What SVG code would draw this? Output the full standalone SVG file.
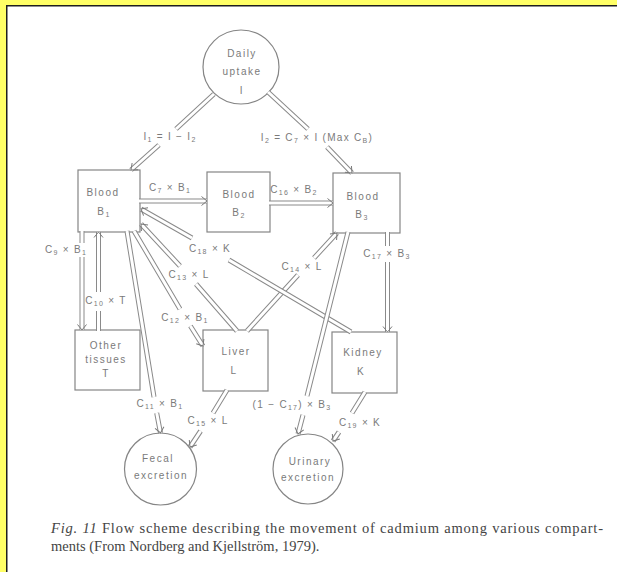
<svg xmlns="http://www.w3.org/2000/svg" width="617" height="572" viewBox="0 0 617 572">
<defs>
<style>
.nd{fill:none;stroke:#858585;stroke-width:1.2}
.nt{font-family:"Liberation Sans",Arial,sans-serif;font-size:10px;letter-spacing:1.5px;fill:#7a7a7a;text-anchor:middle}
.lb{font-family:"Liberation Sans",Arial,sans-serif;font-size:10px;letter-spacing:1.3px;fill:#7a7a7a;text-anchor:middle}
.sb{font-size:7px}
.o{fill:none;stroke:#8a8a8a;stroke-width:5}
.i{fill:none;stroke:#fff;stroke-width:3;marker-end:url(#ah)}
.cap{font-family:"Liberation Serif","Times New Roman",serif;font-size:14.5px;fill:#444}
</style>
<marker id="ah" markerUnits="userSpaceOnUse" viewBox="-7 -6 8 12" markerWidth="8" markerHeight="12" refX="0" refY="0" orient="auto">
<path d="M-5.5,-4.5 L0,0 L-5.5,4.5" fill="none" stroke="#7a7a7a" stroke-width="1"/>
</marker>
</defs>
<rect x="0" y="0" width="617" height="572" fill="#FFFF66"/>
<rect x="6.75" y="5.75" width="620" height="580" fill="#fff" stroke="#1e1e1e" stroke-width="1.5"/>

<g id="uptake"><ellipse class="nd" cx="241" cy="67" rx="38" ry="37"/>
<text class="nt" x="242" y="57">Daily</text><text class="nt" x="242" y="75">uptake</text><text class="nt" x="242" y="94">I</text></g>
<g id="blood1"><rect class="nd" x="78" y="170" width="62" height="62"/>
<text class="nt" x="103" y="196">Blood</text><text class="nt" x="104" y="215">B<tspan class="sb" dy="2">1</tspan></text></g>
<g id="blood2"><rect class="nd" x="207" y="172" width="63" height="60"/>
<text class="nt" x="239" y="198">Blood</text><text class="nt" x="239" y="216">B<tspan class="sb" dy="2">2</tspan></text></g>
<g id="blood3"><rect class="nd" x="333" y="173" width="67" height="60"/>
<text class="nt" x="363" y="200">Blood</text><text class="nt" x="362" y="218">B<tspan class="sb" dy="2">3</tspan></text></g>
<g id="tissues"><rect class="nd" x="75" y="330" width="65" height="60"/>
<text class="nt" x="106" y="349">Other</text><text class="nt" x="106" y="363">tissues</text><text class="nt" x="106" y="377">T</text></g>
<g id="liver"><rect class="nd" x="203" y="330" width="65" height="61"/>
<text class="nt" x="236" y="355">Liver</text><text class="nt" x="234" y="374">L</text></g>
<g id="kidney"><rect class="nd" x="332" y="332" width="65" height="61"/>
<text class="nt" x="363" y="356">Kidney</text><text class="nt" x="361" y="375">K</text></g>
<g id="fecal"><circle class="nd" cx="160.5" cy="469" r="36"/>
<text class="nt" x="158" y="462">Fecal</text><text class="nt" x="161" y="479">excretion</text></g>
<g id="urinary"><circle class="nd" cx="308" cy="469" r="35"/>
<text class="nt" x="310" y="465">Urinary</text><text class="nt" x="308" y="481">excretion</text></g>

<g id="connectors">
<g><path class="o" d="M214,94 L176,129 M159,145 L131,170"/><path class="i" d="M214,94 L176,129 M159,145 L131,170"/>
<text class="lb" x="170" y="140">I<tspan class="sb" dy="2">1</tspan><tspan dy="-2"> = I − I</tspan><tspan class="sb" dy="2">2</tspan></text></g>
<g><path class="o" d="M268,92 L308,129 M327,147 L352,173"/><path class="i" d="M268,92 L308,129 M327,147 L352,173"/>
<text class="lb" x="317" y="141">I<tspan class="sb" dy="2">2</tspan><tspan dy="-2"> = C</tspan><tspan class="sb" dy="2">7</tspan><tspan dy="-2"> × I  (Max C</tspan><tspan class="sb" dy="2">B</tspan><tspan dy="-2">)</tspan></text></g>
<g><path class="o" d="M139,201 L207,201"/><path class="i" d="M139,201 L207,201"/>
<text class="lb" x="170" y="191">C<tspan class="sb" dy="2">7</tspan><tspan dy="-2"> × B</tspan><tspan class="sb" dy="2">1</tspan></text></g>
<g><path class="o" d="M269,203 L333,203"/><path class="i" d="M269,203 L333,203"/>
<text class="lb" x="294" y="193">C<tspan class="sb" dy="2">16</tspan><tspan dy="-2"> × B</tspan><tspan class="sb" dy="2">2</tspan></text></g>
<g><path class="o" d="M82,231 L82,243 M82,257 L82,330"/><path class="i" d="M82,231 L82,243 M82,257 L82,330"/>
<text class="lb" x="66" y="253">C<tspan class="sb" dy="2">9</tspan><tspan dy="-2"> × B</tspan><tspan class="sb" dy="2">1</tspan></text></g>
<g><path class="o" d="M98.5,331 L98.5,311 M98.5,292 L98.5,232"/><path class="i" d="M98.5,331 L98.5,311 M98.5,292 L98.5,232"/>
<text class="lb" x="106" y="304">C<tspan class="sb" dy="2">10</tspan><tspan dy="-2"> × T</tspan></text></g>
<g><path class="o" d="M127,231 L154,397 M156.7,413 L160.5,433"/><path class="i" d="M127,231 L154,397 M156.7,413 L160.5,433"/>
<text class="lb" x="160" y="407">C<tspan class="sb" dy="2">11</tspan><tspan dy="-2"> × B</tspan><tspan class="sb" dy="2">1</tspan></text></g>
<g><path class="o" d="M134,231 L180,309 M190.4,326 L203,346"/><path class="i" d="M134,231 L180,309 M190.4,326 L203,346"/>
<text class="lb" x="185" y="321">C<tspan class="sb" dy="2">12</tspan><tspan dy="-2"> × B</tspan><tspan class="sb" dy="2">1</tspan></text></g>
<g><path class="o" d="M237,331 L196,284 M180,266 L141,224"/><path class="i" d="M237,331 L196,284 M180,266 L141,224"/>
<text class="lb" x="189" y="278">C<tspan class="sb" dy="2">13</tspan><tspan dy="-2"> × L</tspan></text></g>
<g><path class="o" d="M247,331 L298,275 M314,258 L337,233"/><path class="i" d="M247,331 L298,275 M314,258 L337,233"/>
<text class="lb" x="302" y="270">C<tspan class="sb" dy="2">14</tspan><tspan dy="-2"> × L</tspan></text></g>
<g><path class="o" d="M351,332 L229,260 M192,238 L141,209"/><path class="i" d="M351,332 L229,260 M192,238 L141,209"/>
<text class="lb" x="210" y="252">C<tspan class="sb" dy="2">18</tspan><tspan dy="-2"> × K</tspan></text></g>
<g><path class="o" d="M387.5,232 L387.5,246 M387.5,262 L387.5,332"/><path class="i" d="M387.5,232 L387.5,246 M387.5,262 L387.5,332"/>
<text class="lb" x="387" y="257">C<tspan class="sb" dy="2">17</tspan><tspan dy="-2"> × B</tspan><tspan class="sb" dy="2">3</tspan></text></g>
<g><path class="o" d="M348,232 L307,396 M303,415 L298,434"/><path class="i" d="M348,232 L307,396 M303,415 L298,434"/>
<text class="lb" x="292" y="408">(1 − C<tspan class="sb" dy="2">17</tspan><tspan dy="-2">) × B</tspan><tspan class="sb" dy="2">3</tspan></text></g>
<g><path class="o" d="M365,392 L352,413 M339,432 L333,441"/><path class="i" d="M365,392 L352,413 M339,432 L333,441"/>
<text class="lb" x="360" y="426">C<tspan class="sb" dy="2">19</tspan><tspan dy="-2"> × K</tspan></text></g>
<g><path class="o" d="M227,390 L213,413 M200.6,431 L190,447"/><path class="i" d="M227,390 L213,413 M200.6,431 L190,447"/>
<text class="lb" x="208" y="424">C<tspan class="sb" dy="2">15</tspan><tspan dy="-2"> × L</tspan></text></g>
</g>

<text class="cap" x="51" y="533" textLength="552" lengthAdjust="spacing"><tspan font-style="italic">Fig. 11</tspan>   Flow scheme describing the movement of cadmium among various compart-</text>
<text class="cap" x="51" y="551">ments (From Nordberg and Kjellström, 1979).</text>
</svg>
